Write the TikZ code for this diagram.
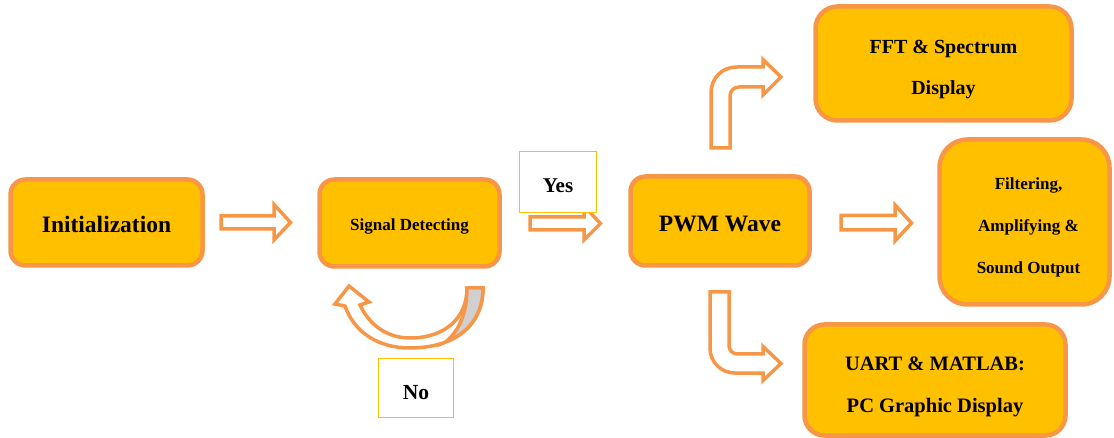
\documentclass[tikz,border=0pt]{standalone}
\usepackage{fontspec}
\setmainfont{Liberation Serif}
\definecolor{orng}{HTML}{F79646}
\definecolor{gold}{HTML}{FFC000}
\definecolor{grayf}{HTML}{D0D0D0}
\begin{document}
\begin{tikzpicture}[x=1pt,y=-1pt,
  box/.style={draw=orng, fill=gold, line width=4.5pt, rounded corners=#1, inner sep=0pt},
  box/.default=15pt,
  txt/.style={inner sep=0pt, align=center},
  lbl/.style={draw=gold, fill=white, line width=1.5pt, inner sep=0pt},
  blk/.style={draw=orng, fill=white, line width=3.5pt, line join=miter},
]
\useasboundingbox (0,0) rectangle (1114,438);

% main boxes
\node[box, minimum width=192pt, minimum height=86pt] (init) at (106.5,222.5) {};
\node[box, minimum width=180pt, minimum height=87pt] (sig) at (409.5,223) {};
\node[box, minimum width=179pt, minimum height=89pt] (pwm) at (720,221) {};
\node[box=22pt, minimum width=256pt, minimum height=114pt] (fft) at (943.5,63.5) {};
\node[box=28pt, minimum width=170pt, minimum height=165pt] (filt) at (1024.5,222) {};
\node[box=20pt, minimum width=261pt, minimum height=111pt] (uart) at (935,380) {};

\node[txt, font=\fontsize{23.5}{28}\selectfont\bfseries] (tinit) at ([yshift=-2pt]init.center) {Initialization};
\node[txt, font=\fontsize{17}{20}\selectfont\bfseries] (tsig) at ([yshift=-3pt]sig.center) {Signal Detecting};
\node[txt, font=\fontsize{23.5}{28}\selectfont\bfseries] (tpwm) at ([yshift=-3pt]pwm.center) {PWM Wave};
\node[txt, font=\fontsize{20}{41}\selectfont\bfseries] (tfft) at ([yshift=-6.5pt]fft.center) {FFT \& Spectrum\\Display};
\node[txt, font=\fontsize{17}{42}\selectfont\bfseries] (tfilt) at ([xshift=4pt,yshift=-5pt]filt.center) {Filtering,\\Amplifying \&\\Sound Output};
\node[txt, font=\fontsize{20.5}{42}\selectfont\bfseries] (tuart) at ([yshift=-7pt]uart.center) {UART \& MATLAB:\\PC Graphic Display};

% straight block arrows
\draw[blk] (221,216) -- (274,216) -- (274,204.5) -- (290.5,222.5) -- (274,240) -- (274,229) -- (221,229) -- cycle;
\draw[blk] (530,217) -- (584,217) -- (584,206) -- (600.5,223.5) -- (584,240) -- (584,230) -- (530,230) -- cycle;
\draw[blk] (841,215.5) -- (895,215.5) -- (895,205) -- (911.5,223) -- (895,241) -- (895,230) -- (841,230) -- cycle;

% bent arrow up (PWM -> FFT)
\draw[blk] (711,148) -- (711,93) .. controls (711,78) and (722,67) .. (737,67) -- (763,67) -- (763,59.5) -- (781,77) -- (763,95) -- (763,87) -- (739,87) .. controls (734,87) and (730,91) .. (730,96) -- (730,148) -- cycle;

% bent arrow down (PWM -> UART)
\draw[blk] (710,292) -- (710,348) .. controls (710,362) and (721,373) .. (735,373) -- (763,373) -- (763,380.5) -- (781,363.5) -- (763,346.5) -- (763,354) -- (737,354) .. controls (733,354) and (729,350) .. (729,346) -- (729,292) -- cycle;

% curved arrow back to Signal Detecting
\draw[blk] (483,288) .. controls (483,325) and (455,348) .. (410,348) .. controls (378,348) and (354,332) .. (345,306) -- (335,304) -- (349,286) -- (369,302) -- (360,305) .. controls (369,324) and (386,338) .. (410,338) .. controls (445,338) and (467,318) .. (467,288) -- cycle;
\draw[blk, fill=grayf] (467,288) -- (483,288) .. controls (483,313.9) and (469.3,332.9) .. (445.6,342) .. controls (460,330) and (467,312) .. (467,288) -- cycle;

% labels
\node[lbl, minimum width=77pt, minimum height=61pt] (yes) at (558,182) {};
\node[txt, font=\fontsize{21}{25}\selectfont\bfseries] (tyes) at ([yshift=-4pt]yes.center) {Yes};
\node[lbl, minimum width=75pt, minimum height=59pt] (no) at (416,388) {};
\node[txt, font=\fontsize{21.5}{25}\selectfont\bfseries] (tno) at ([yshift=-5pt]no.center) {No};
\end{tikzpicture}
\end{document}
